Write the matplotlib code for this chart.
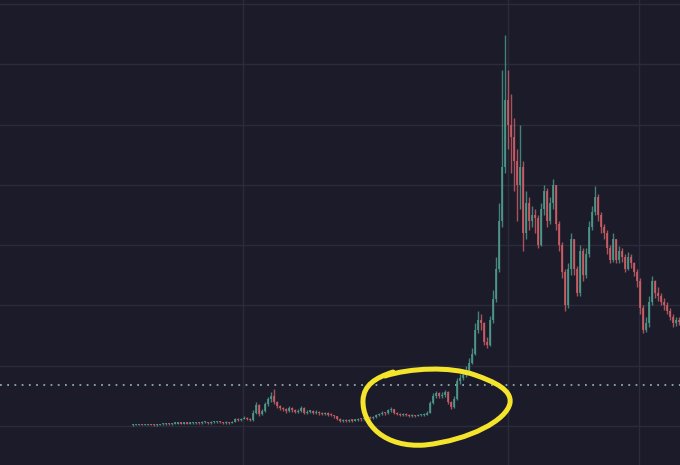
import numpy as np
import matplotlib.pyplot as plt
from matplotlib.path import Path
from matplotlib.patches import PathPatch

# candle closes / highs / lows, one candle per period (price units, grid step = 1)
closes = [0.02, 0.02, 0.03, 0.02, 0.02, 0.03, 0.02, 0.01, 0.02, 0.03,
          0.03, 0.04, 0.03, 0.04, 0.04, 0.05, 0.04, 0.05, 0.04, 0.05,
          0.05, 0.06, 0.05, 0.06, 0.06, 0.05, 0.06, 0.06, 0.07, 0.06,
          0.05, 0.06, 0.05, 0.07, 0.12, 0.10, 0.12, 0.14, 0.12, 0.10,
          0.22, 0.34, 0.20, 0.25, 0.36, 0.44, 0.50, 0.40, 0.33, 0.30,
          0.28, 0.25, 0.30, 0.27, 0.23, 0.25, 0.30, 0.22, 0.24, 0.25,
          0.22, 0.24, 0.21, 0.20, 0.22, 0.19, 0.18, 0.16, 0.12, 0.08,
          0.09, 0.08, 0.10, 0.09, 0.10, 0.12, 0.11, 0.12, 0.14, 0.13,
          0.15, 0.18, 0.20, 0.22, 0.21, 0.26, 0.28, 0.22, 0.20, 0.18,
          0.20, 0.18, 0.17, 0.18, 0.17, 0.18, 0.18, 0.19, 0.22, 0.38,
          0.50, 0.55, 0.50, 0.52, 0.56, 0.40, 0.32, 0.45, 0.75, 0.80,
          0.85, 0.92, 1.05, 1.20, 1.60, 1.75, 1.70, 1.40, 1.35, 1.75,
          2.10, 2.60, 3.40, 4.30, 5.40, 5.00, 4.80, 4.40, 4.00, 4.30,
          3.20, 3.70, 3.40, 3.50, 3.45, 3.00, 3.60, 3.90, 3.40, 3.70,
          4.00, 3.35, 3.00, 2.55, 2.00, 2.60, 3.10, 2.60, 2.20, 2.90,
          2.50, 2.85, 3.30, 3.55, 3.80, 3.50, 3.30, 3.20, 2.95, 2.75,
          3.10, 2.75, 2.90, 2.80, 2.60, 2.80, 2.70, 2.55, 2.40, 1.95,
          1.60, 1.70, 2.05, 2.40, 2.20, 2.15, 2.05, 2.00, 1.90, 1.80,
          1.70, 1.75, 1.72]
highs = [0.03, 0.03, 0.04, 0.04, 0.03, 0.04, 0.04, 0.03, 0.03, 0.04,
         0.05, 0.05, 0.05, 0.05, 0.06, 0.06, 0.06, 0.06, 0.06, 0.07,
         0.07, 0.07, 0.07, 0.08, 0.08, 0.07, 0.08, 0.08, 0.09, 0.08,
         0.07, 0.08, 0.07, 0.09, 0.14, 0.13, 0.14, 0.16, 0.15, 0.13,
         0.26, 0.40, 0.36, 0.28, 0.40, 0.48, 0.56, 0.61, 0.42, 0.35,
         0.32, 0.30, 0.33, 0.32, 0.29, 0.28, 0.33, 0.31, 0.27, 0.27,
         0.27, 0.26, 0.25, 0.23, 0.24, 0.23, 0.21, 0.19, 0.17, 0.13,
         0.11, 0.11, 0.12, 0.11, 0.12, 0.14, 0.14, 0.14, 0.16, 0.16,
         0.17, 0.20, 0.22, 0.25, 0.24, 0.29, 0.31, 0.29, 0.24, 0.22,
         0.22, 0.21, 0.20, 0.20, 0.19, 0.20, 0.20, 0.21, 0.25, 0.42,
         0.54, 0.58, 0.57, 0.56, 0.60, 0.58, 0.42, 0.50, 0.80, 0.86,
         0.95, 1.00, 1.12, 1.30, 1.70, 1.90, 1.85, 1.72, 1.48, 1.82,
         2.25, 2.80, 3.70, 5.90, 6.48, 5.90, 5.50, 5.10, 4.60, 5.00,
         4.40, 3.90, 3.80, 3.65, 3.60, 3.50, 3.70, 4.00, 3.95, 3.80,
         4.10, 4.00, 3.40, 3.05, 2.60, 2.70, 3.20, 3.10, 2.65, 3.00,
         2.95, 2.95, 3.40, 3.65, 3.98, 3.85, 3.55, 3.35, 3.25, 3.00,
         3.20, 3.10, 2.98, 2.95, 2.85, 2.88, 2.85, 2.72, 2.60, 2.45,
         2.00, 1.80, 2.15, 2.48, 2.42, 2.30, 2.20, 2.12, 2.05, 1.95,
         1.85, 1.80, 1.80]
lows = [0.00, 0.01, 0.01, 0.01, 0.01, 0.01, 0.01, 0.00, 0.00, 0.01,
        0.02, 0.02, 0.02, 0.02, 0.03, 0.03, 0.03, 0.03, 0.03, 0.03,
        0.04, 0.04, 0.04, 0.04, 0.05, 0.04, 0.04, 0.05, 0.05, 0.05,
        0.04, 0.04, 0.04, 0.05, 0.06, 0.08, 0.09, 0.11, 0.10, 0.08,
        0.09, 0.20, 0.17, 0.18, 0.23, 0.33, 0.40, 0.36, 0.30, 0.27,
        0.25, 0.22, 0.23, 0.24, 0.21, 0.21, 0.23, 0.20, 0.20, 0.22,
        0.20, 0.20, 0.19, 0.18, 0.18, 0.17, 0.16, 0.14, 0.10, 0.06,
        0.06, 0.06, 0.07, 0.07, 0.08, 0.09, 0.09, 0.10, 0.11, 0.11,
        0.12, 0.14, 0.17, 0.19, 0.19, 0.20, 0.24, 0.20, 0.18, 0.16,
        0.16, 0.16, 0.15, 0.15, 0.15, 0.16, 0.16, 0.17, 0.18, 0.21,
        0.36, 0.46, 0.46, 0.47, 0.48, 0.37, 0.28, 0.30, 0.43, 0.70,
        0.76, 0.82, 0.90, 1.02, 1.18, 1.55, 1.60, 1.35, 1.30, 1.33,
        1.70, 2.05, 2.55, 3.30, 4.20, 4.60, 4.20, 3.90, 3.40, 3.60,
        2.90, 3.10, 3.25, 3.30, 3.20, 2.95, 2.98, 3.50, 3.30, 3.35,
        3.60, 3.25, 2.90, 2.45, 1.90, 1.95, 2.50, 2.50, 2.15, 2.15,
        2.40, 2.45, 2.80, 3.25, 3.50, 3.40, 3.20, 3.10, 2.85, 2.70,
        2.72, 2.70, 2.70, 2.72, 2.55, 2.58, 2.62, 2.48, 2.30, 1.85,
        1.55, 1.56, 1.65, 2.00, 2.12, 2.08, 2.00, 1.92, 1.85, 1.75,
        1.65, 1.66, 1.68]
first_open = 0.01
alert_level = 0.68
period_lines = [36.7, 125.0, 168.7]

bg = "#1b1b29"
grid_col = "#2b2b3b"
up_col = "#4f9c8c"
down_col = "#cf5f68"

closes = np.array(closes)
highs = np.array(highs)
lows = np.array(lows)
opens = np.concatenate([[first_open], closes[:-1]])
idx = np.arange(len(closes))
colors = np.where(closes >= opens, up_col, down_col)

fig = plt.figure(figsize=(6.8, 4.65), dpi=100)
fig.patch.set_facecolor(bg)
ax = fig.add_axes([0, 0, 1, 1])
ax.set_facecolor(bg)

ax.set_xlim(-44.33, 182.33)
ax.set_ylim(-0.647, 7.065)

# grid
ax.set_yticks(np.arange(0, 8))
ax.set_xticks(period_lines)
ax.grid(True, color=grid_col, lw=1.0)
ax.tick_params(length=0, labelleft=False, labelbottom=False)
for s in ax.spines.values():
    s.set_visible(False)

# candles
ax.vlines(idx, lows, highs, colors=colors, lw=1.0, alpha=0.8, zorder=3)
body_lo = np.minimum(opens, closes)
body_h = np.maximum(np.abs(closes - opens), 0.02)
ax.bar(idx, body_h, bottom=body_lo, width=0.6, color=colors, alpha=0.8,
       linewidth=0, zorder=3)

# dotted price line
ax.axhline(alert_level, color="#8fa7ad", lw=1.3, ls=(0, (1, 3)), zorder=2)

# hand drawn yellow loop (figure pixel coords)
def px(x, y):
    return (x / 680.0, 1 - y / 465.0)

verts = [px(385, 376),
         px(410, 368), px(450, 366), px(475, 375),
         px(495, 382), px(512, 390), px(510, 403),
         px(507, 420), px(470, 440), px(425, 445),
         px(385, 448), px(362, 425), px(363, 400),
         px(364, 385), px(375, 378), px(393, 372)]
codes = [Path.MOVETO] + [Path.CURVE4] * 15
loop = PathPatch(Path(verts, codes), transform=fig.transFigure, fill=False,
                 edgecolor="#f4e52c", lw=3.6, capstyle="round", zorder=5)
fig.patches.append(loop)

fig.savefig("out.png", dpi=100, facecolor=bg)
